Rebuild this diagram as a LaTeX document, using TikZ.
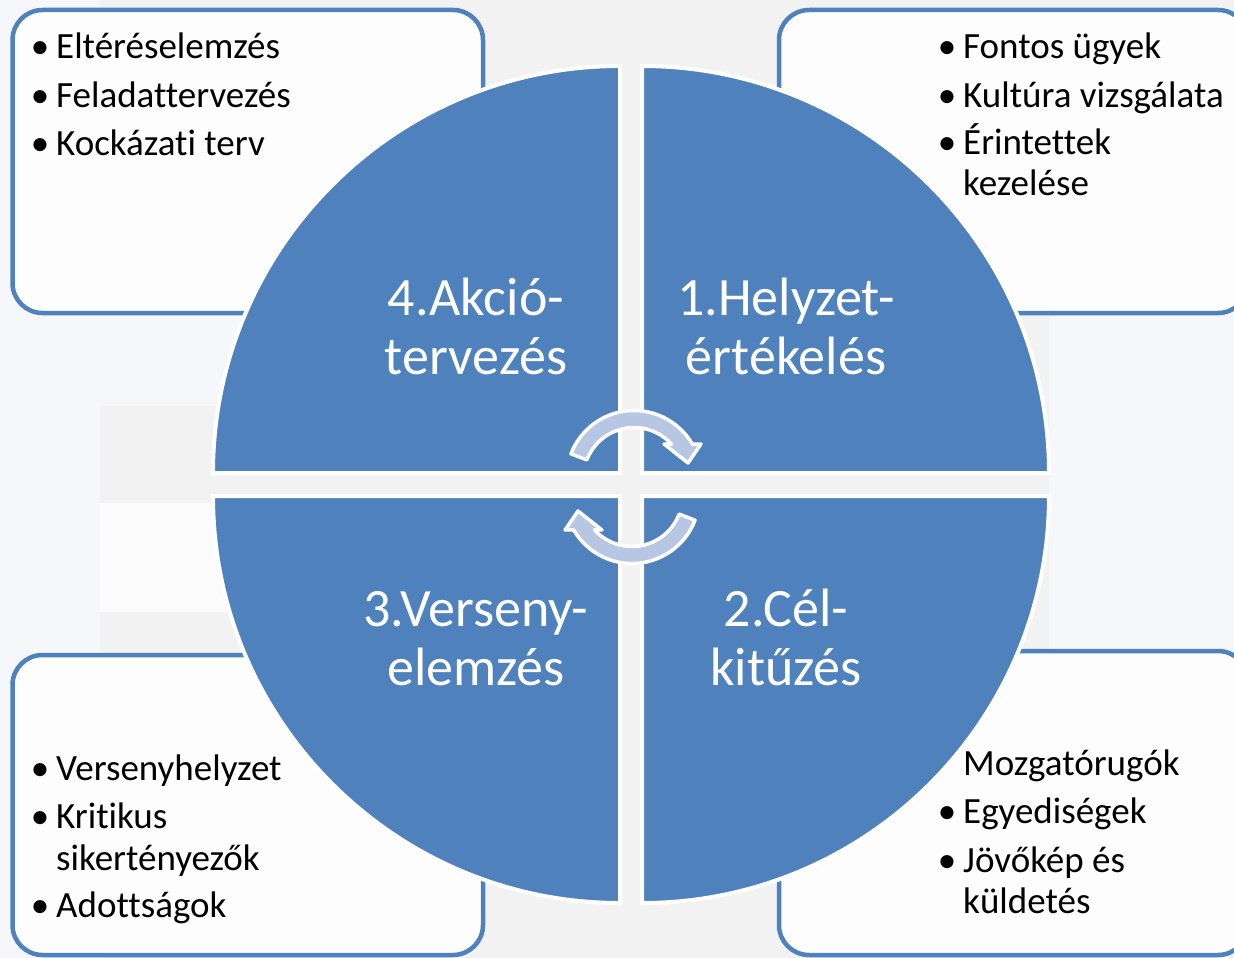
\documentclass[tikz,border=0pt]{standalone}
\usepackage{fontspec}
\setmainfont{Carlito}[Ligatures={NoCommon,NoContextual}]
\definecolor{qblue}{HTML}{4F81BD}
\definecolor{abl}{HTML}{B7C6E3}
\definecolor{bggray}{HTML}{F2F2F2}
\definecolor{bgblue}{HTML}{F5F7FA}
\definecolor{bgwhite}{HTML}{FBFBFB}
\definecolor{boxfill}{HTML}{FDFDFD}
\begin{document}
\begin{tikzpicture}[x=1pt,y=-1pt,
  infobox/.style={draw=qblue, line width=4.5pt, fill=boxfill, rounded corners=30pt},
  quad/.style={fill=qblue, draw=white, line width=4pt},
  cyc/.style={fill=abl, draw=white, line width=3.5pt, line join=round},
  item/.style={anchor=base west, font=\fontsize{37}{44}\selectfont, text=black, inner sep=0pt},
  dot/.style={anchor=base, font=\fontsize{37}{44}\selectfont, text=black, inner sep=0pt},
  title/.style={anchor=base, font=\fontsize{54}{58}\selectfont, text=white, inner sep=0pt}]
\useasboundingbox (0,0) rectangle (1234,958);
\begin{scope}
\clip (0,0) rectangle (1234,958);
% background
\fill[bggray] (0,0) rectangle (1234,958);
\fill[bgblue] (0,0) rectangle (100,958);
\fill[bgblue] (100,313) rectangle (300,406);
\fill[bgwhite] (100,503) rectangle (300,612);
\fill[bgblue] (1049,313) rectangle (1234,651);
% boxes
\draw[infobox] (12.5,10) rectangle (483,313);
\draw[infobox] (779,10) rectangle (1248,313);
\draw[infobox] (12.5,655) rectangle (483,955);
\draw[infobox] (779,651) rectangle (1248,955);
% quadrants
\draw[quad] (620,473) -- (213,473) arc[start angle=180,end angle=270,radius=407] -- cycle;
\draw[quad] (642,473) -- (642,66) arc[start angle=270,end angle=360,radius=407] -- cycle;
\draw[quad] (642,496) -- (1049,496) arc[start angle=0,end angle=90,radius=407] -- cycle;
\draw[quad] (620,496) -- (620,903) arc[start angle=90,end angle=180,radius=407] -- cycle;
% circular arrows
\coordinate (c1) at (634,478);
\draw[cyc] (c1) ++(201:67.5) arc[start angle=201,end angle=330,radius=67.5] -- (701,444) -- (688,463) -- (664,444) -- ([shift={(318:50.5)}]c1) arc[start angle=318,end angle=201,radius=50.5] -- cycle;
\begin{scope}[rotate around={180:(633,487)}]
\coordinate (c2) at (634,478);
\draw[cyc] (c2) ++(201:67.5) arc[start angle=201,end angle=330,radius=67.5] -- (701,444) -- (688,463) -- (664,444) -- ([shift={(318:50.5)}]c2) arc[start angle=318,end angle=201,radius=50.5] -- cycle;
\end{scope}
\end{scope}
% titles
\node[title] (t4a) at (476,315) {4.Akció-};
\node[title] (t4b) at (476,374) {tervezés};
\node[title] (t1a) at (786,315) {1.Helyzet-};
\node[title] (t1b) at (786,374) {értékelés};
\node[title] (t3a) at (476,626) {3.Verseny-};
\node[title] (t3b) at (476,685) {elemzés};
\node[title] (t2a) at (786,626) {2.Cél-};
\node[title] (t2b) at (786,685) {kitűzés};
% top-left list
\node[dot] (tlb1) at (40,59) {•};
\node[item] (tl1) at (56,59) {Eltéréselemzés};
\node[dot] (tlb2) at (40,107) {•};
\node[item] (tl2) at (56,107) {Feladattervezés};
\node[dot] (tlb3) at (40,155) {•};
\node[item] (tl3) at (56,155) {Kockázati terv};
% top-right list
\node[dot] (trb1) at (947,59) {•};
\node[item] (tr1) at (963,59) {Fontos ügyek};
\node[dot] (trb2) at (947,107) {•};
\node[item] (tr2) at (963,107) {Kultúra vizsgálata};
\node[dot] (trb3) at (947,154) {•};
\node[item] (tr3) at (963,154) {Érintettek};
\node[item] (tr4) at (963,195) {kezelése};
% bottom-left list
\node[dot] (blb1) at (40,780) {•};
\node[item] (bl1) at (56,780) {Versenyhelyzet};
\node[dot] (blb2) at (40,828) {•};
\node[item] (bl2) at (56,828) {Kritikus};
\node[item] (bl3) at (56,870) {sikertényezők};
\node[dot] (blb3) at (40,917) {•};
\node[item] (bl4) at (56,917) {Adottságok};
% bottom-right list
\node[item] (br1) at (963,775) {Mozgatórugók};
\node[dot] (brb2) at (947,823) {•};
\node[item] (br2) at (963,823) {Egyediségek};
\node[dot] (brb3) at (947,872) {•};
\node[item] (br3) at (963,872) {Jövőkép és};
\node[item] (br4) at (963,913) {küldetés};
\end{tikzpicture}
\end{document}
